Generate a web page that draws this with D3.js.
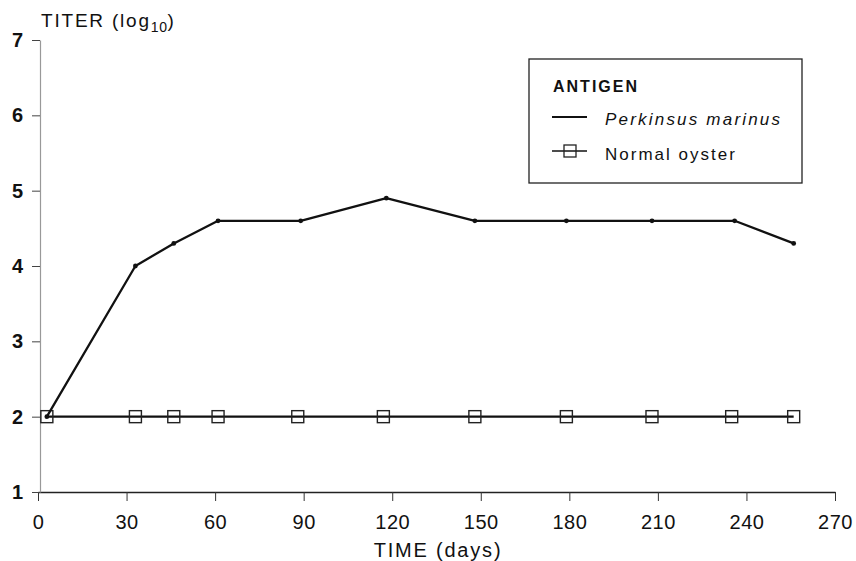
<!DOCTYPE html>
<html lang="en">
<head>
  <meta charset="UTF-8">
  <title>Titer over time</title>
  <script src="https://d3js.org/d3.v7.min.js"></script>
  <style>
    body { margin: 0; background: #fff; }
    text { font-family: "Liberation Sans", Arial, sans-serif; fill: #111; }
  </style>
</head>
<body>
  <div id="chart"></div>
<script>
  const w = 856, h = 561;

  // values
  const days = [3, 33, 46, 61, 89, 118, 148, 179, 208, 236, 256];
  const perkinsus = [2.0, 4.0, 4.3, 4.6, 4.6, 4.9, 4.6, 4.6, 4.6, 4.6, 4.3];
  const normalDays = [3, 33, 46, 61, 88, 117, 148, 179, 208, 235, 256];
  const normalOyster = [2.0, 2.0, 2.0, 2.0, 2.0, 2.0, 2.0, 2.0, 2.0, 2.0, 2.0];
  const xTicks = [0, 30, 60, 90, 120, 150, 180, 210, 240, 270];
  const yTicks = [1, 2, 3, 4, 5, 6, 7];

  const svg = d3.select("#chart").append("svg")
    .attr("width", w)
    .attr("height", h);

  const x = d3.scaleLinear().domain([0, 270]).range([38, 835]);
  const y = d3.scaleLinear().domain([1, 7]).range([492, 40]);

  // axes
  const xAxis = svg.append("g")
    .attr("transform", `translate(0,${y(1)})`)
    .call(d3.axisBottom(x).tickValues(xTicks).tickFormat(d3.format("d"))
      .tickSize(9).tickSizeOuter(0).tickPadding(14));
  xAxis.select(".domain").attr("stroke", "#222").attr("stroke-width", 1.3);
  xAxis.selectAll(".tick line").attr("stroke", "#333");
  xAxis.selectAll("text").style("font-size", "20px").style("letter-spacing", "0.5px").attr("fill", "#111");

  const yAxis = svg.append("g")
    .attr("transform", `translate(${x(0) + 2},0)`)
    .call(d3.axisLeft(y).tickValues(yTicks).tickFormat(d3.format("d"))
      .tickSize(8).tickSizeOuter(0).tickPadding(9));
  yAxis.select(".domain").attr("stroke", "#999").attr("stroke-width", 1.2);
  yAxis.selectAll(".tick line").attr("stroke", "#444");
  yAxis.selectAll("text").style("font-size", "20px").style("font-weight", "bold").attr("fill", "#111");

  // axis titles
  const yTitle = svg.append("text")
    .attr("x", 41)
    .attr("y", 27)
    .style("font-size", "19px")
    .style("letter-spacing", "1.8px");
  yTitle.append("tspan").text("TITER (log");
  yTitle.append("tspan").attr("dy", 5).style("font-size", "14px").style("letter-spacing", "0.5px").text("10");
  yTitle.append("tspan").attr("dy", -5).text(")");

  svg.append("text")
    .attr("x", 438)
    .attr("y", 557)
    .attr("text-anchor", "middle")
    .style("font-size", "20px")
    .style("letter-spacing", "1.8px")
    .text("TIME (days)");

  // series
  const perkData = days.map((d, i) => ({ day: d, v: perkinsus[i] }));
  const normData = normalDays.map((d, i) => ({ day: d, v: normalOyster[i] }));

  const line = d3.line().x(d => x(d.day)).y(d => y(d.v));

  svg.append("path")
    .datum(normData)
    .attr("d", line)
    .attr("fill", "none")
    .attr("stroke", "#111")
    .attr("stroke-width", 2.2);

  svg.selectAll(".sq")
    .data(normData)
    .enter()
    .append("rect")
    .attr("class", "sq")
    .attr("x", d => x(d.day) - 6)
    .attr("y", d => y(d.v) - 6)
    .attr("width", 12)
    .attr("height", 12)
    .attr("fill", "none")
    .attr("stroke", "#222")
    .attr("stroke-width", 1.4);

  svg.append("path")
    .datum(perkData)
    .attr("d", line)
    .attr("fill", "none")
    .attr("stroke", "#111")
    .attr("stroke-width", 2.3)
    .attr("stroke-linejoin", "round");

  svg.selectAll(".dot")
    .data(perkData)
    .enter()
    .append("circle")
    .attr("class", "dot")
    .attr("cx", d => x(d.day))
    .attr("cy", d => y(d.v))
    .attr("r", 2.4)
    .attr("fill", "#111");

  // legend
  const lg = svg.append("g");
  lg.append("rect")
    .attr("x", 529).attr("y", 59)
    .attr("width", 273).attr("height", 124)
    .attr("fill", "#fff")
    .attr("stroke", "#222")
    .attr("stroke-width", 1.3);

  lg.append("text")
    .attr("x", 553).attr("y", 92)
    .style("font-size", "16px")
    .style("font-weight", "bold")
    .style("letter-spacing", "2px")
    .text("ANTIGEN");

  lg.append("line")
    .attr("x1", 552).attr("x2", 587)
    .attr("y1", 117).attr("y2", 117)
    .attr("stroke", "#111").attr("stroke-width", 2);
  lg.append("text")
    .attr("x", 605).attr("y", 125)
    .style("font-size", "17px")
    .style("font-style", "italic")
    .style("letter-spacing", "2.2px")
    .text("Perkinsus marinus");

  lg.append("line")
    .attr("x1", 552).attr("x2", 587)
    .attr("y1", 151).attr("y2", 151)
    .attr("stroke", "#111").attr("stroke-width", 1.6);
  lg.append("rect")
    .attr("x", 564).attr("y", 145)
    .attr("width", 12).attr("height", 12)
    .attr("fill", "none")
    .attr("stroke", "#222")
    .attr("stroke-width", 1.3);
  lg.append("text")
    .attr("x", 605).attr("y", 160)
    .style("font-size", "17px")
    .style("letter-spacing", "2px")
    .text("Normal oyster");
</script>
</body>
</html>
